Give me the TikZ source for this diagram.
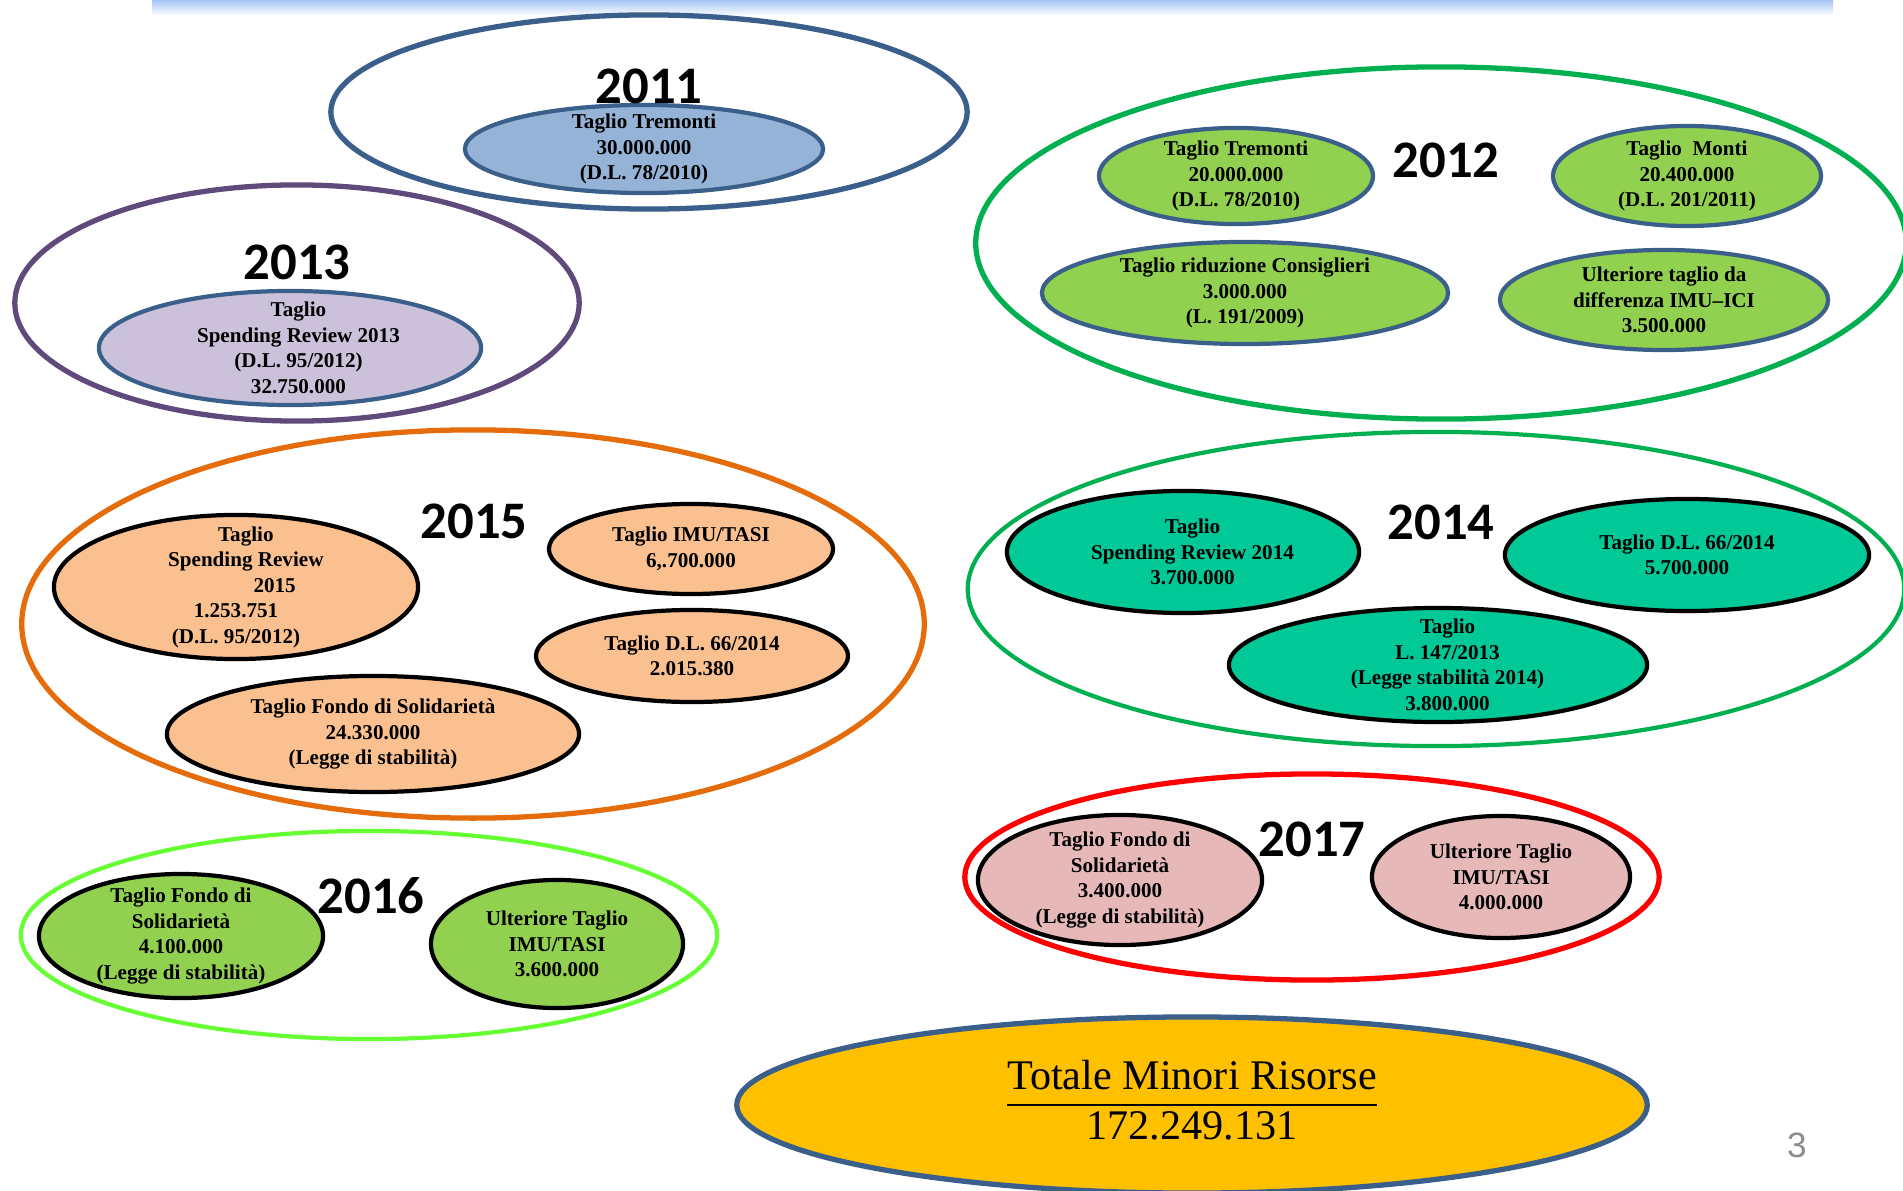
\documentclass[tikz,border=0pt]{standalone}
\usepackage{fontspec}
\setmainfont{Liberation Serif}
\newfontfamily\yearfont{Carlito}
\newfontfamily\pagefont{Liberation Sans}
\usetikzlibrary{shapes.geometric}
\definecolor{ringblue}{HTML}{3A5F8B}
\definecolor{ringpurple}{HTML}{604A7B}
\definecolor{ringgreen}{HTML}{00B050}
\definecolor{ringorange}{HTML}{E46C0A}
\definecolor{ringlime}{HTML}{66FF33}
\definecolor{ringred}{HTML}{FF0000}
\definecolor{fillblue}{HTML}{95B3D7}
\definecolor{filllilac}{HTML}{CCC1DA}
\definecolor{fillgreen}{HTML}{92D050}
\definecolor{fillpeach}{HTML}{FAC090}
\definecolor{fillteal}{HTML}{00C896}
\definecolor{fillpink}{HTML}{E6B9B8}
\definecolor{totalyellow}{HTML}{FFC000}
\definecolor{barblue}{HTML}{A6C6F4}
\definecolor{pagegray}{HTML}{8C8C8C}

\begin{document}
\begin{tikzpicture}[x=0.01cm,y=-0.01cm]
\tikzset{
  yearring/.style={ellipse,draw=#1,line width=1.5pt,inner sep=0pt},
  cutitem/.style 2 args={ellipse,draw=#1,fill=#2,line width=1.2pt,inner xsep=0pt,inner ysep=-6pt,align=center,font=\fontsize{6}{7.25}\selectfont\bfseries},
  yearlabel/.style={inner sep=0pt,font=\yearfont\bfseries\fontsize{15}{15}\selectfont},
  totalbox/.style={ellipse,draw=ringblue,fill=totalyellow,line width=1.5pt,inner sep=0pt,font=\fontsize{12}{13.6}\selectfont},
}
\useasboundingbox (0,0) rectangle (1903,1191);
\shade[top color=barblue,bottom color=white] (152,0) rectangle (1833,16);
% 2011
\node[yearring=ringblue,minimum width=6.36cm,minimum height=1.94cm] (ring2011) at (649,112) {};
\node[cutitem={ringblue}{fillblue},minimum width=3.58cm,minimum height=0.88cm] (tremonti11) at (644,149) {Taglio Tremonti\\30.000.000\\(D.L. 78/2010)};
\node[yearlabel] (y2011) at (649,86) {2011};
% 2013
\node[yearring=ringpurple,minimum width=5.64cm,minimum height=2.36cm] (ring2013) at (297,303) {};
\node[cutitem={ringblue}{filllilac},minimum width=3.82cm,minimum height=1.14cm] (sr13) at (290,348) {\hspace*{4.8pt}Taglio\\\hspace*{4.8pt}Spending Review 2013\\\hspace*{4.8pt}(D.L. 95/2012)\\\hspace*{4.8pt}32.750.000};
\node[yearlabel] (y2013) at (297,262) {2013};
% 2012
\node[yearring=ringgreen,minimum width=9.30cm,minimum height=3.52cm] (ring2012) at (1441,243) {};
\node[cutitem={ringblue}{fillgreen},minimum width=2.74cm,minimum height=0.96cm] (tremonti12) at (1236,176) {Taglio Tremonti\\20.000.000\\(D.L. 78/2010)};
\node[cutitem={ringblue}{fillgreen},minimum width=2.68cm,minimum height=1.00cm] (monti12) at (1687,176) {Taglio\ \ Monti\\20.400.000\\(D.L. 201/2011)};
\node[cutitem={ringblue}{fillgreen},minimum width=4.06cm,minimum height=1.02cm] (consiglieri12) at (1245,293) {Taglio riduzione Consiglieri\\3.000.000\\(L. 191/2009)};
\node[cutitem={ringblue}{fillgreen},minimum width=3.28cm,minimum height=1.00cm] (imuici12) at (1664,300) {Ulteriore taglio da\\differenza IMU–ICI\\3.500.000};
\node[yearlabel] (y2012) at (1446,160) {2012};
% 2015
\node[yearring=ringorange,minimum width=9.02cm,minimum height=3.88cm] (ring2015) at (473,624) {};
\node[cutitem={black}{fillpeach},minimum width=3.64cm,minimum height=1.44cm] (sr15) at (236,587) {\hspace*{5.6pt}Taglio\\\hspace*{5.6pt}Spending Review\\\hspace*{22pt}2015\\1.253.751\\(D.L. 95/2012)};
\node[cutitem={black}{fillpeach},minimum width=2.84cm,minimum height=0.90cm] (imutasi15) at (691,549) {Taglio IMU/TASI\\6,.700.000};
\node[cutitem={black}{fillpeach},minimum width=3.12cm,minimum height=0.92cm] (dl15) at (692,656) {Taglio D.L. 66/2014\\2.015.380};
\node[cutitem={black}{fillpeach},minimum width=4.12cm,minimum height=1.16cm] (fondo15) at (373,734) {Taglio Fondo di Solidarietà\\24.330.000\\(Legge di stabilità)};
\node[yearlabel] (y2015) at (474,521) {2015};
% 2014
\node[yearring=ringgreen,line width=1.2pt,minimum width=9.36cm,minimum height=3.14cm] (ring2014) at (1436,589) {};
\node[cutitem={black}{fillteal},minimum width=3.52cm,minimum height=1.22cm] (sr14) at (1183,552) {\hspace*{5.4pt}Taglio\\\hspace*{5.4pt}Spending Review 2014\\\hspace*{5.4pt}3.700.000};
\node[cutitem={black}{fillteal},minimum width=3.64cm,minimum height=1.12cm] (dl14) at (1687,555) {Taglio D.L. 66/2014\\5.700.000};
\node[cutitem={black}{fillteal},minimum width=4.18cm,minimum height=1.14cm] (legge14) at (1438,665) {\hspace*{5.4pt}Taglio\\\hspace*{5.4pt}L. 147/2013\\\hspace*{5.4pt}(Legge stabilità 2014)\\\hspace*{5.4pt}3.800.000};
\node[yearlabel] (y2014) at (1441,522) {2014};
% 2016
\node[yearring=ringlime,line width=1.2pt,minimum width=6.96cm,minimum height=2.08cm] (ring2016) at (369,935) {};
\node[cutitem={black}{fillgreen},minimum width=2.84cm,minimum height=1.24cm] (fondo16) at (181,936) {Taglio Fondo di\\Solidarietà\\4.100.000\\(Legge di stabilità)};
\node[cutitem={black}{fillgreen},minimum width=2.52cm,minimum height=1.28cm] (imutasi16) at (557,944) {Ulteriore Taglio\\IMU/TASI\\3.600.000};
\node[yearlabel] (y2016) at (371,896) {2016};
% 2017
\node[yearring=ringred,minimum width=6.94cm,minimum height=2.06cm] (ring2017) at (1312,877) {};
\node[cutitem={black}{fillpink},minimum width=2.84cm,minimum height=1.30cm] (fondo17) at (1120,880) {Taglio Fondo di\\Solidarietà\\3.400.000\\(Legge di stabilità)};
\node[cutitem={black}{fillpink},minimum width=2.58cm,minimum height=1.22cm] (imutasi17) at (1501,877) {Ulteriore Taglio\\IMU/TASI\\4.000.000};
\node[yearlabel] (y2017) at (1312,839) {2017};
% totale
\node[totalbox,minimum width=9.10cm,minimum height=1.76cm] (totale) at (1192,1105) {\setlength{\tabcolsep}{0pt}\begin{tabular}{c}Totale Minori Risorse\\\hline 172.249.131\end{tabular}};
\node[text=pagegray,font=\pagefont\fontsize{10}{10}\selectfont,inner sep=0pt] (pagenum) at (1797,1145) {3};
\end{tikzpicture}
\end{document}
